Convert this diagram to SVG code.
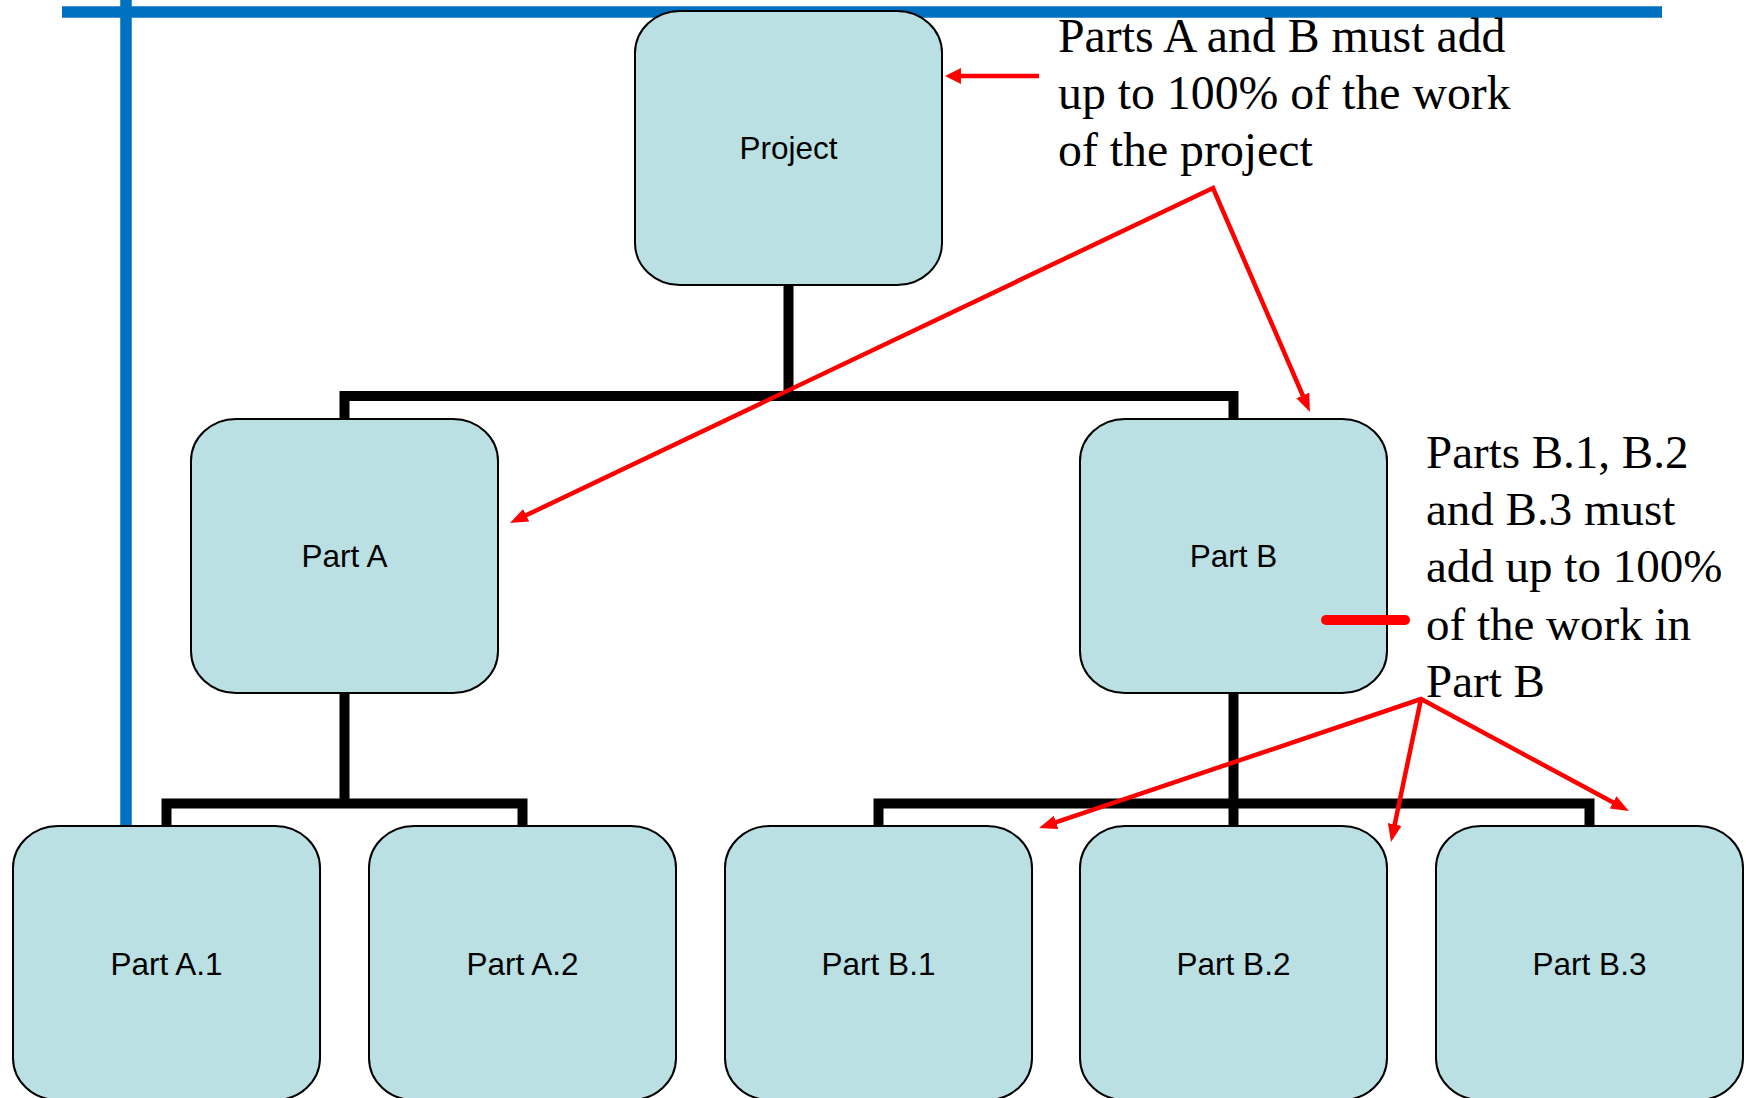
<svg xmlns="http://www.w3.org/2000/svg" width="1746" height="1098" viewBox="0 0 1746 1098">
<style>
.box{fill:#BAE0E3;stroke:#000;stroke-width:2}
.lbl{font-family:"Liberation Sans",Arial,sans-serif;font-size:31.5px;fill:#000;text-anchor:middle}
.tree{fill:none;stroke:#000;stroke-width:10;stroke-linecap:butt;stroke-linejoin:miter}
.red{fill:none;stroke:#FF0000;stroke-width:4.5;stroke-linejoin:miter}
.note{font-family:"Liberation Serif","Times New Roman",serif;font-size:47px;fill:#000}
.blue{stroke:#0070C0;stroke-width:11.5}
</style>
<defs>
<marker id="ah" markerUnits="userSpaceOnUse" markerWidth="20" markerHeight="16" refX="6" refY="7" orient="auto-start-reverse">
<path d="M0,0 L18,7 L0,14 z" fill="#FF0000"/>
</marker>
<marker id="ah2" markerUnits="userSpaceOnUse" markerWidth="20" markerHeight="18" refX="4" refY="8" orient="auto">
<path d="M0,0 L16,8 L0,16 z" fill="#FF0000"/>
</marker>
</defs>

<g id="frame">
<line class="blue" x1="62" y1="12" x2="1662" y2="12"/>
<line class="blue" x1="126" y1="0" x2="126" y2="828"/>
</g>

<g id="connectors">
<path class="tree" d="M788.5,285 V396"/>
<path class="tree" d="M344.5,419 V396 H1233.5 V419"/>
<path class="tree" d="M344.5,693 V803.5"/>
<path class="tree" d="M166.5,826 V803.5 H522.5 V826"/>
<path class="tree" d="M1233.5,693 V826"/>
<path class="tree" d="M878.5,826 V803.5 H1589.5 V826"/>
</g>

<g id="node-project"><rect class="box" x="635" y="11" width="307" height="274" rx="45" ry="42"/><text class="lbl" x="788.5" y="159">Project</text></g>
<g id="node-part-a"><rect class="box" x="191" y="419" width="307" height="274" rx="45" ry="42"/><text class="lbl" x="344.5" y="567">Part A</text></g>
<g id="node-part-b"><rect class="box" x="1080" y="419" width="307" height="274" rx="45" ry="42"/><text class="lbl" x="1233.5" y="567">Part B</text></g>
<g id="node-part-a1"><rect class="box" x="13" y="826" width="307" height="274" rx="45" ry="42"/><text class="lbl" x="166.5" y="975">Part A.1</text></g>
<g id="node-part-a2"><rect class="box" x="369" y="826" width="307" height="274" rx="45" ry="42"/><text class="lbl" x="522.5" y="975">Part A.2</text></g>
<g id="node-part-b1"><rect class="box" x="725" y="826" width="307" height="274" rx="45" ry="42"/><text class="lbl" x="878.5" y="975">Part B.1</text></g>
<g id="node-part-b2"><rect class="box" x="1080" y="826" width="307" height="274" rx="45" ry="42"/><text class="lbl" x="1233.5" y="975">Part B.2</text></g>
<g id="node-part-b3"><rect class="box" x="1436" y="826" width="307" height="274" rx="45" ry="42"/><text class="lbl" x="1589.5" y="975">Part B.3</text></g>

<g id="annotations">
<line class="red" x1="1039" y1="76" x2="957" y2="76" stroke-width="6" marker-end="url(#ah2)"/>
<path class="red" d="M520.8,517.8 L1213,188 L1305.2,401" marker-start="url(#ah)" marker-end="url(#ah)"/>
<path class="red" d="M1050.4,824.2 L1421,699 L1618.4,805.3" marker-start="url(#ah)" marker-end="url(#ah)"/>
<path class="red" d="M1421,699 L1393.5,830.3" marker-end="url(#ah)"/>
<line x1="1326" y1="620" x2="1405" y2="620" stroke="#FF0000" stroke-width="10" stroke-linecap="round"/>
<text class="note" x="1058" style="font-size:47.8px"><tspan x="1058" y="52">Parts A and B must add</tspan><tspan x="1058" y="109">up to 100% of the work</tspan><tspan x="1058" y="166">of the project</tspan></text>
<text class="note" x="1426"><tspan x="1426" y="468">Parts B.1, B.2</tspan><tspan x="1426" y="525">and B.3 must</tspan><tspan x="1426" y="582">add up to 100%</tspan><tspan x="1426" y="640">of the work in</tspan><tspan x="1426" y="697">Part B</tspan></text>
</g>
</svg>
